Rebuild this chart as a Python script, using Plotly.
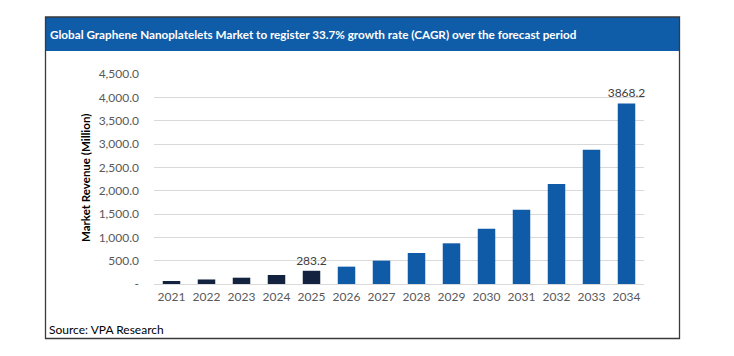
import plotly.graph_objects as go

years = [str(y) for y in range(2021, 2035)]
revenue = [65, 97, 135, 193, 283.2, 372, 500, 665, 872, 1185, 1590, 2145, 2875, 3868.2]
bar_colors = ["#13233F"] * 5 + ["#0F5BA7"] * 9
label_text = ["", "", "", "", "283.2", "", "", "", "", "", "", "", "", "3868.2"]
y_ticks = [0, 500, 1000, 1500, 2000, 2500, 3000, 3500, 4000, 4500]
y_tick_labels = ["-", "500.0", "1,000.0", "1,500.0", "2,000.0", "2,500.0",
                 "3,000.0", "3,500.0", "4,000.0", "4,500.0"]
title_text = "Global Graphene Nanoplatelets Market to register 33.7% growth rate (CAGR) over the forecast period"
source_text = "Source: VPA Research"
y_title = "Market Revenue (Million)"

# the page body adds an 8px margin; lay the figure out in window pixels
OFF = 8
W, H = 734 - OFF, 356 - OFF
def px(x):
    return (x - OFF) / W
def py(y):
    return 1 - (y - OFF) / H

FONT = "Lato, 'Open Sans', sans-serif"

fig = go.Figure(go.Bar(
    x=years, y=revenue,
    marker=dict(color=bar_colors, line=dict(width=0)),
    text=label_text, textposition="outside", cliponaxis=False,
    constraintext="none",
    textfont=dict(family=FONT, size=12, color="#404040"),
    width=0.5,
))

shapes = [
    # title bar
    dict(type="rect", xref="paper", yref="paper", x0=px(45.5), x1=px(679.5), y0=py(51), y1=py(17),
         fillcolor="#0F5CA8", line=dict(width=0), layer="below"),
    # frame
    dict(type="rect", xref="paper", yref="paper", x0=px(45.5), x1=px(679.5), y0=py(338.5), y1=py(17),
         fillcolor="rgba(0,0,0,0)", line=dict(color="#3A3A3A", width=1.3)),
]

annotations = [
    dict(text=title_text, xref="paper", yref="paper", x=px(48), y=py(34),
         xanchor="left", yanchor="middle", showarrow=False,
         font=dict(family=FONT, size=11.7, color="white", weight="bold")),
    dict(text=source_text, xref="paper", yref="paper", x=px(47), y=py(329),
         xanchor="left", yanchor="middle", showarrow=False,
         font=dict(family=FONT, size=12, color="#000000")),
    dict(text=y_title, xref="paper", yref="paper", x=px(85), y=py(178),
         xanchor="center", yanchor="middle", showarrow=False, textangle=-90,
         font=dict(family=FONT, size=11.5, color="#000000", weight="bold")),
]

fig.update_layout(
    width=W, height=H,
    template="none",
    paper_bgcolor="white", plot_bgcolor="white",
    margin=dict(l=0, r=0, t=0, b=0),
    showlegend=False,
    shapes=shapes, annotations=annotations,
    xaxis=dict(domain=[px(154), px(644)], type="category", showgrid=False,
               showline=True, linecolor="#D9D9D9", linewidth=1, ticks="",
               tickfont=dict(family=FONT, size=12, color="#595959"),
               ticklabelstandoff=2,
               automargin=False),
    yaxis=dict(domain=[py(284), py(74)], range=[0, 4500], tickvals=y_ticks,
               ticktext=y_tick_labels, showgrid=True, gridcolor="#D9D9D9",
               gridwidth=1, zeroline=False, showline=False, ticks="",
               ticklabelstandoff=14,
               tickfont=dict(family=FONT, size=12, color="#595959"),
               automargin=False),
)

fig.write_html("out.html", config={"displayModeBar": False})
